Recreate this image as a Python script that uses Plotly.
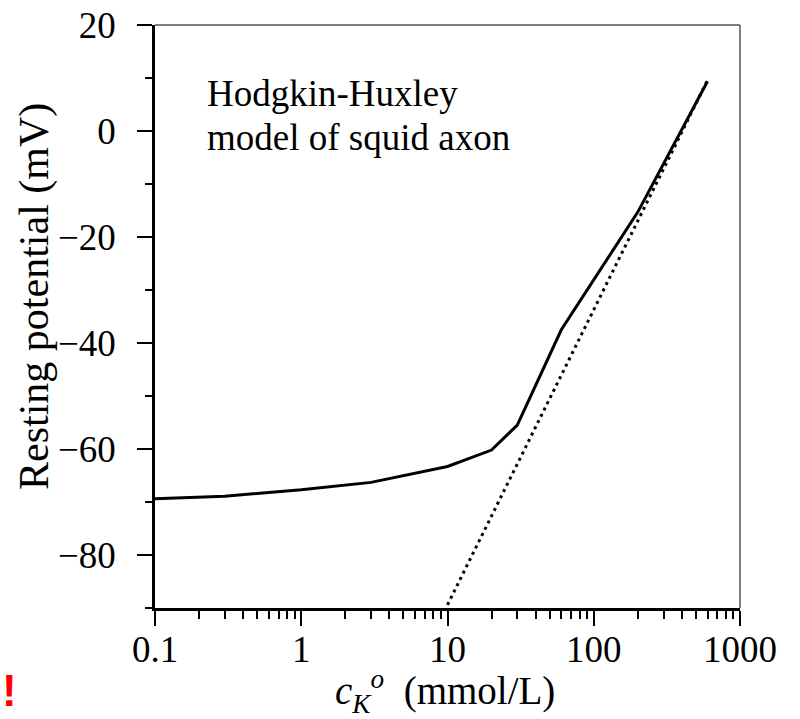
import plotly.graph_objects as go

# Data
conc = [0.1, 0.3, 1, 3, 10, 20, 30, 60, 200, 600]
v_rest = [-69.4, -68.9, -67.7, -66.3, -63.3, -60.2, -55.5, -37.5, -15.3, 9.4]
nernst_c = [10, 600]
nernst_v = [-89.4, 9.6]

x_major = [0.1, 1, 10, 100, 1000]
x_major_text = ["0.1", "1", "10", "100", "1000"]
x_minor = [m * 10 ** e for e in (-1, 0, 1, 2) for m in range(2, 10)]
y_major = [20, 0, -20, -40, -60, -80]
y_major_text = ["20", "0", "−20", "−40", "−60", "−80"]
y_minor = [10, -10, -30, -50, -70, -90]

FONT = "Liberation Serif"

# plot area in page pixels (body margin removed below)
L, R, T, B = 155, 740, 25, 608
def px(x):
    return (x - L) / (R - L)
def py(y):
    return (B - y) / (B - T)

fig = go.Figure()
fig.add_trace(go.Scatter(x=nernst_c, y=nernst_v, mode="lines",
                         line=dict(color="black", width=3, dash="3px,4px"),
                         showlegend=False))
fig.add_trace(go.Scatter(x=conc, y=v_rest, mode="lines",
                         line=dict(color="black", width=3),
                         showlegend=False))

fig.update_layout(
    width=800, height=719,
    margin=dict(l=L, r=800 - R, t=T, b=719 - B, autoexpand=False),
    plot_bgcolor="white", paper_bgcolor="white",
    font=dict(family=FONT, size=37, color="black"),
    xaxis=dict(type="log", range=[-1, 3],
               tickmode="array", tickvals=x_major, ticktext=x_major_text,
               ticks="outside", ticklen=15, tickwidth=2, tickcolor="black",
               ticklabelstandoff=-8, ticklabeloverflow="allow",
               showline=True, linecolor="black", linewidth=2.5,
               showgrid=False, zeroline=False, automargin=False,
               minor=dict(tickmode="array", tickvals=x_minor, ticks="outside",
                          ticklen=8, tickwidth=1.5, tickcolor="black", showgrid=False)),
    yaxis=dict(range=[-90, 20],
               tickmode="array", tickvals=y_major, ticktext=y_major_text,
               ticks="outside", ticklen=15, tickwidth=2, tickcolor="black",
               ticklabelstandoff=14, ticklabeloverflow="allow",
               showline=True, linecolor="black", linewidth=2.5,
               showgrid=False, zeroline=False, automargin=False,
               minor=dict(tickmode="array", tickvals=y_minor, ticks="outside",
                          ticklen=7, tickwidth=1.5, tickcolor="black", showgrid=False)),
)

# top and right frame lines (thinner, gray)
fig.add_shape(type="line", xref="paper", yref="paper", x0=0, x1=1, y0=1, y1=1,
              line=dict(color="#555555", width=1.5))
fig.add_shape(type="line", xref="paper", yref="paper", x0=1, x1=1, y0=0, y1=1,
              line=dict(color="#555555", width=1.5))

# axis titles
fig.add_annotation(xref="paper", yref="paper", x=px(445), y=py(691),
                   xanchor="center", yanchor="middle", showarrow=False,
                   text="<i>c</i><sub><i>K</i></sub><sup><i>o</i></sup>  (mmol/L)",
                   font=dict(family=FONT, size=39, color="black"))
fig.add_annotation(xref="paper", yref="paper", x=px(34), y=py(297),
                   xanchor="center", yanchor="middle", showarrow=False, textangle=-90,
                   text="Resting potential (mV)",
                   font=dict(family=FONT, size=42, color="black"))

# model label
fig.add_annotation(xref="paper", yref="paper", x=px(205), y=py(94),
                   xanchor="left", yanchor="middle", showarrow=False,
                   text="Hodgkin-Huxley",
                   font=dict(family=FONT, size=37, color="black"))
fig.add_annotation(xref="paper", yref="paper", x=px(205), y=py(137),
                   xanchor="left", yanchor="middle", showarrow=False,
                   text="model of squid axon",
                   font=dict(family=FONT, size=37, color="black"))

fig.add_annotation(xref="paper", yref="paper", x=px(0), y=py(690),
                   xanchor="left", yanchor="middle", showarrow=False,
                   text="<b>!</b>", font=dict(family="Liberation Sans", size=44, color="red"))

fig.write_html("out.html", config={"displayModeBar": False},
               post_script="document.body.style.margin='0';")
